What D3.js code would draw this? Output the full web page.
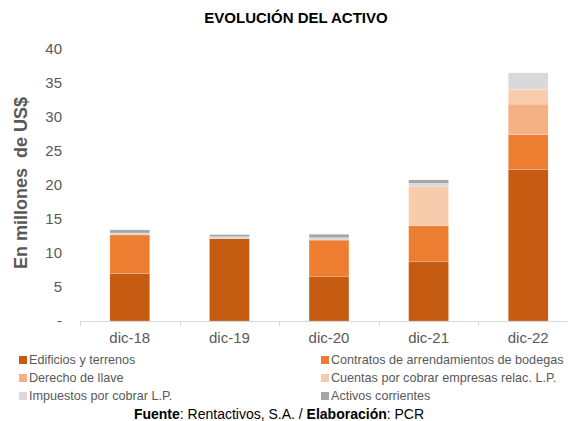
<!DOCTYPE html>
<html>
<head>
<meta charset="utf-8">
<script src="https://cdn.jsdelivr.net/npm/d3@7"></script>
<style>
  body { margin: 0; background: #fff; }
  text { font-family: "Liberation Sans", Arial, sans-serif; }
</style>
</head>
<body>
<div id="chart"></div>
<script>
// Datos (millones de US$)
var years = ["dic-18", "dic-19", "dic-20", "dic-21", "dic-22"];
var seriesNames = [
    "Edificios y terrenos",
    "Contratos de arrendamientos de bodegas",
    "Derecho de llave",
    "Cuentas por cobrar empresas relac. L.P.",
    "Impuestos por cobrar L.P.",
    "Activos corrientes"
];
var edificios = [7.0, 12.1, 6.5, 8.7, 22.3];
var contratos = [5.65, 0, 5.4, 5.3, 5.1];
var derecho = [0, 0, 0, 0, 4.5];
var cuentas = [0, 0, 0, 5.75, 2.15];
var impuestos = [0.3, 0.3, 0.35, 0.5, 2.45];
var activos = [0.45, 0.3, 0.5, 0.5, 0];
var yTicks = [0, 5, 10, 15, 20, 25, 30, 35, 40];

var colors = ["#C55A11", "#ED7D31", "#F4B183", "#F8CBAD", "#D9D9D9", "#A5A5A5"];

var width = 568;
var height = 421;

var svg = d3.select("#chart")
    .append("svg")
    .attr("width", width)
    .attr("height", height);

// armar tabla para el stack
var allSeries = [edificios, contratos, derecho, cuentas, impuestos, activos];
var table = years.map(function (y, i) {
    var row = { year: y };
    seriesNames.forEach(function (s, j) { row[s] = allSeries[j][i]; });
    return row;
});
var stacked = d3.stack().keys(seriesNames)(table);

var x = d3.scaleBand()
    .domain(years)
    .range([80, 578])
    .paddingInner(0.6)
    .paddingOuter(0.3);

var y = d3.scaleLinear()
    .domain([0, 40])
    .range([321, 49]);

var color = d3.scaleOrdinal()
    .domain(seriesNames)
    .range(colors);

// titulo
svg.append("text")
    .attr("x", 296)
    .attr("y", 23)
    .attr("text-anchor", "middle")
    .style("font-size", "15px")
    .style("font-weight", "bold")
    .style("fill", "#000")
    .text("EVOLUCIÓN DEL ACTIVO");

// barras apiladas
svg.selectAll(".serie")
    .data(stacked)
    .enter()
    .append("g")
    .attr("class", "serie")
    .attr("fill", d => color(d.key))
    .selectAll("rect")
    .data(d => d)
    .enter()
    .append("rect")
    .attr("x", d => x(d.data.year))
    .attr("y", d => y(d[1]))
    .attr("width", x.bandwidth())
    .attr("height", d => y(d[0]) - y(d[1]))
    .attr("stroke", "#fff")
    .attr("stroke-opacity", 0.35)
    .attr("stroke-width", 0.5);

// eje y (solo etiquetas)
svg.selectAll(".ytick")
    .data(yTicks)
    .enter()
    .append("text")
    .attr("class", "ytick")
    .attr("x", 62)
    .attr("y", d => y(d))
    .attr("dy", "0.35em")
    .attr("text-anchor", "end")
    .style("font-size", "15px")
    .style("fill", "#595959")
    .text(d => d === 0 ? "-" : d);

// eje x
var xAxis = svg.append("g");
xAxis.append("line")
    .attr("x1", x.range()[0])
    .attr("x2", x.range()[1])
    .attr("y1", y(0) + 0.5)
    .attr("y2", y(0) + 0.5)
    .attr("stroke", "#D9D9D9")
    .attr("stroke-width", 1);

xAxis.selectAll(".xtick")
    .data(d3.range(years.length + 1))
    .enter()
    .append("line")
    .attr("x1", d => Math.round(x.range()[0] + d * x.step()) + 0.5)
    .attr("x2", d => Math.round(x.range()[0] + d * x.step()) + 0.5)
    .attr("y1", y(0))
    .attr("y2", y(0) + 5)
    .attr("stroke", "#D9D9D9");

xAxis.selectAll(".xlabel")
    .data(years)
    .enter()
    .append("text")
    .attr("x", d => x(d) + x.bandwidth() / 2)
    .attr("y", 338)
    .attr("dy", "0.35em")
    .attr("text-anchor", "middle")
    .style("font-size", "15px")
    .style("fill", "#595959")
    .text(d => d);

// titulo del eje y
svg.append("text")
    .attr("transform", "translate(27,183) rotate(-90)")
    .attr("text-anchor", "middle")
    .style("font-size", "18px")
    .style("font-weight", "bold")
    .style("fill", "#595959")
    .style("white-space", "pre")
    .text("En millones  de US$");

// leyenda en dos columnas
var legend = svg.selectAll(".legend")
    .data(seriesNames)
    .enter()
    .append("g")
    .attr("class", "legend")
    .attr("transform", function (d, i) {
        return "translate(" + (i % 2 === 0 ? 19 : 321) + "," + (360 + Math.floor(i / 2) * 18) + ")";
    });

legend.append("rect")
    .attr("x", 0)
    .attr("y", -4)
    .attr("width", 8)
    .attr("height", 8)
    .style("fill", d => color(d));

legend.append("text")
    .attr("x", 10)
    .attr("y", 0)
    .attr("dy", "0.35em")
    .style("font-size", "12.6px")
    .style("fill", "#595959")
    .text(d => d);

// fuente
var fuente = svg.append("text")
    .attr("x", 279)
    .attr("y", 414)
    .attr("dy", "0.35em")
    .attr("text-anchor", "middle")
    .style("font-size", "14px")
    .style("fill", "#000");
fuente.append("tspan").style("font-weight", "bold").text("Fuente");
fuente.append("tspan").text(": Rentactivos, S.A. / ");
fuente.append("tspan").style("font-weight", "bold").text("Elaboración");
fuente.append("tspan").text(": PCR");
</script>
</body>
</html>
